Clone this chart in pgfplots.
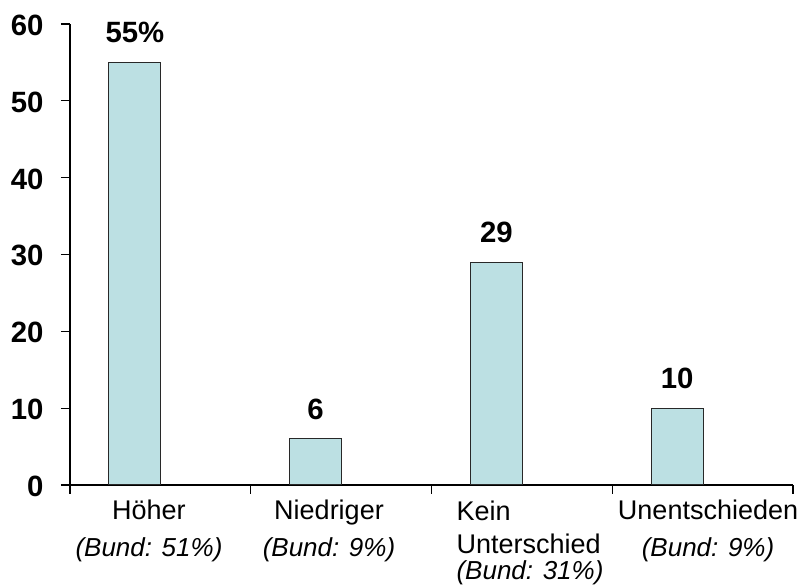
\documentclass[border=0pt]{standalone}
\usepackage{fontspec}
\setmainfont{Liberation Sans}
\usepackage{pgfplots}
\pgfplotsset{compat=1.18}
\definecolor{barfill}{RGB}{188,224,227}
\definecolor{baredge}{RGB}{40,40,40}
\begin{document}
\begin{tikzpicture}
  \begin{axis}[
      scale only axis,
      width=542.25pt, height=345.75pt,
      xmin=0, xmax=4,
      ymin=0, ymax=60,
      axis lines=left,
      axis line style={-, black, line width=0.8pt},
      tick style={black, line width=0.8pt},
      tick align=outside,
      major tick length=6.75pt,
      ytick={0,10,...,60},
      xtick={0,1,2,3,4},
      xticklabels={},
      font=\fontsize{20.25}{22.5}\selectfont,
      /pgf/number format/assume math mode=true,
      yticklabel style={font=\fontsize{22}{24}\selectfont\bfseries, anchor=east, inner sep=0pt, xshift=-13pt, yshift=-1pt},
      extra x ticks={0.437,1.433,2.545,3.53},
      extra x tick labels={
        {Höher\\[5pt]\itshape\fontsize{19.5}{22.5}\selectfont (Bund: 51\%)},
        {Niedriger\\[5pt]\itshape\fontsize{19.5}{22.5}\selectfont (Bund: 9\%)},
        {\begin{tabular}[t]{@{}l@{}}Kein\\[2pt]Unterschied\\[-3pt]\itshape\fontsize{19.5}{22.5}\selectfont (Bund: 31\%)\end{tabular}},
        {Unentschieden\\[5pt]\itshape\fontsize{19.5}{22.5}\selectfont (Bund: 9\%)}
      },
      extra x tick style={
        major tick length=0pt,
        xticklabel style={align=center, anchor=north, inner sep=0pt, yshift=-11pt},
      },
      nodes near coords,
      point meta=explicit symbolic,
      nodes near coords style={font=\fontsize{22}{24}\selectfont\bfseries, anchor=south, inner sep=0pt, yshift=14pt},
    ]
    \addplot[ybar, bar width=0.287, fill=barfill, draw=baredge, line width=0.8pt]
      coordinates {(0.359,55)[55\%] (1.359,6)[6] (2.359,29)[29] (3.359,10)[10]};
  \end{axis}
  \pgfresetboundingbox
  \path[use as bounding box] (-52.5pt,-75pt) rectangle (550.5pt,363.75pt);
\end{tikzpicture}
\end{document}
